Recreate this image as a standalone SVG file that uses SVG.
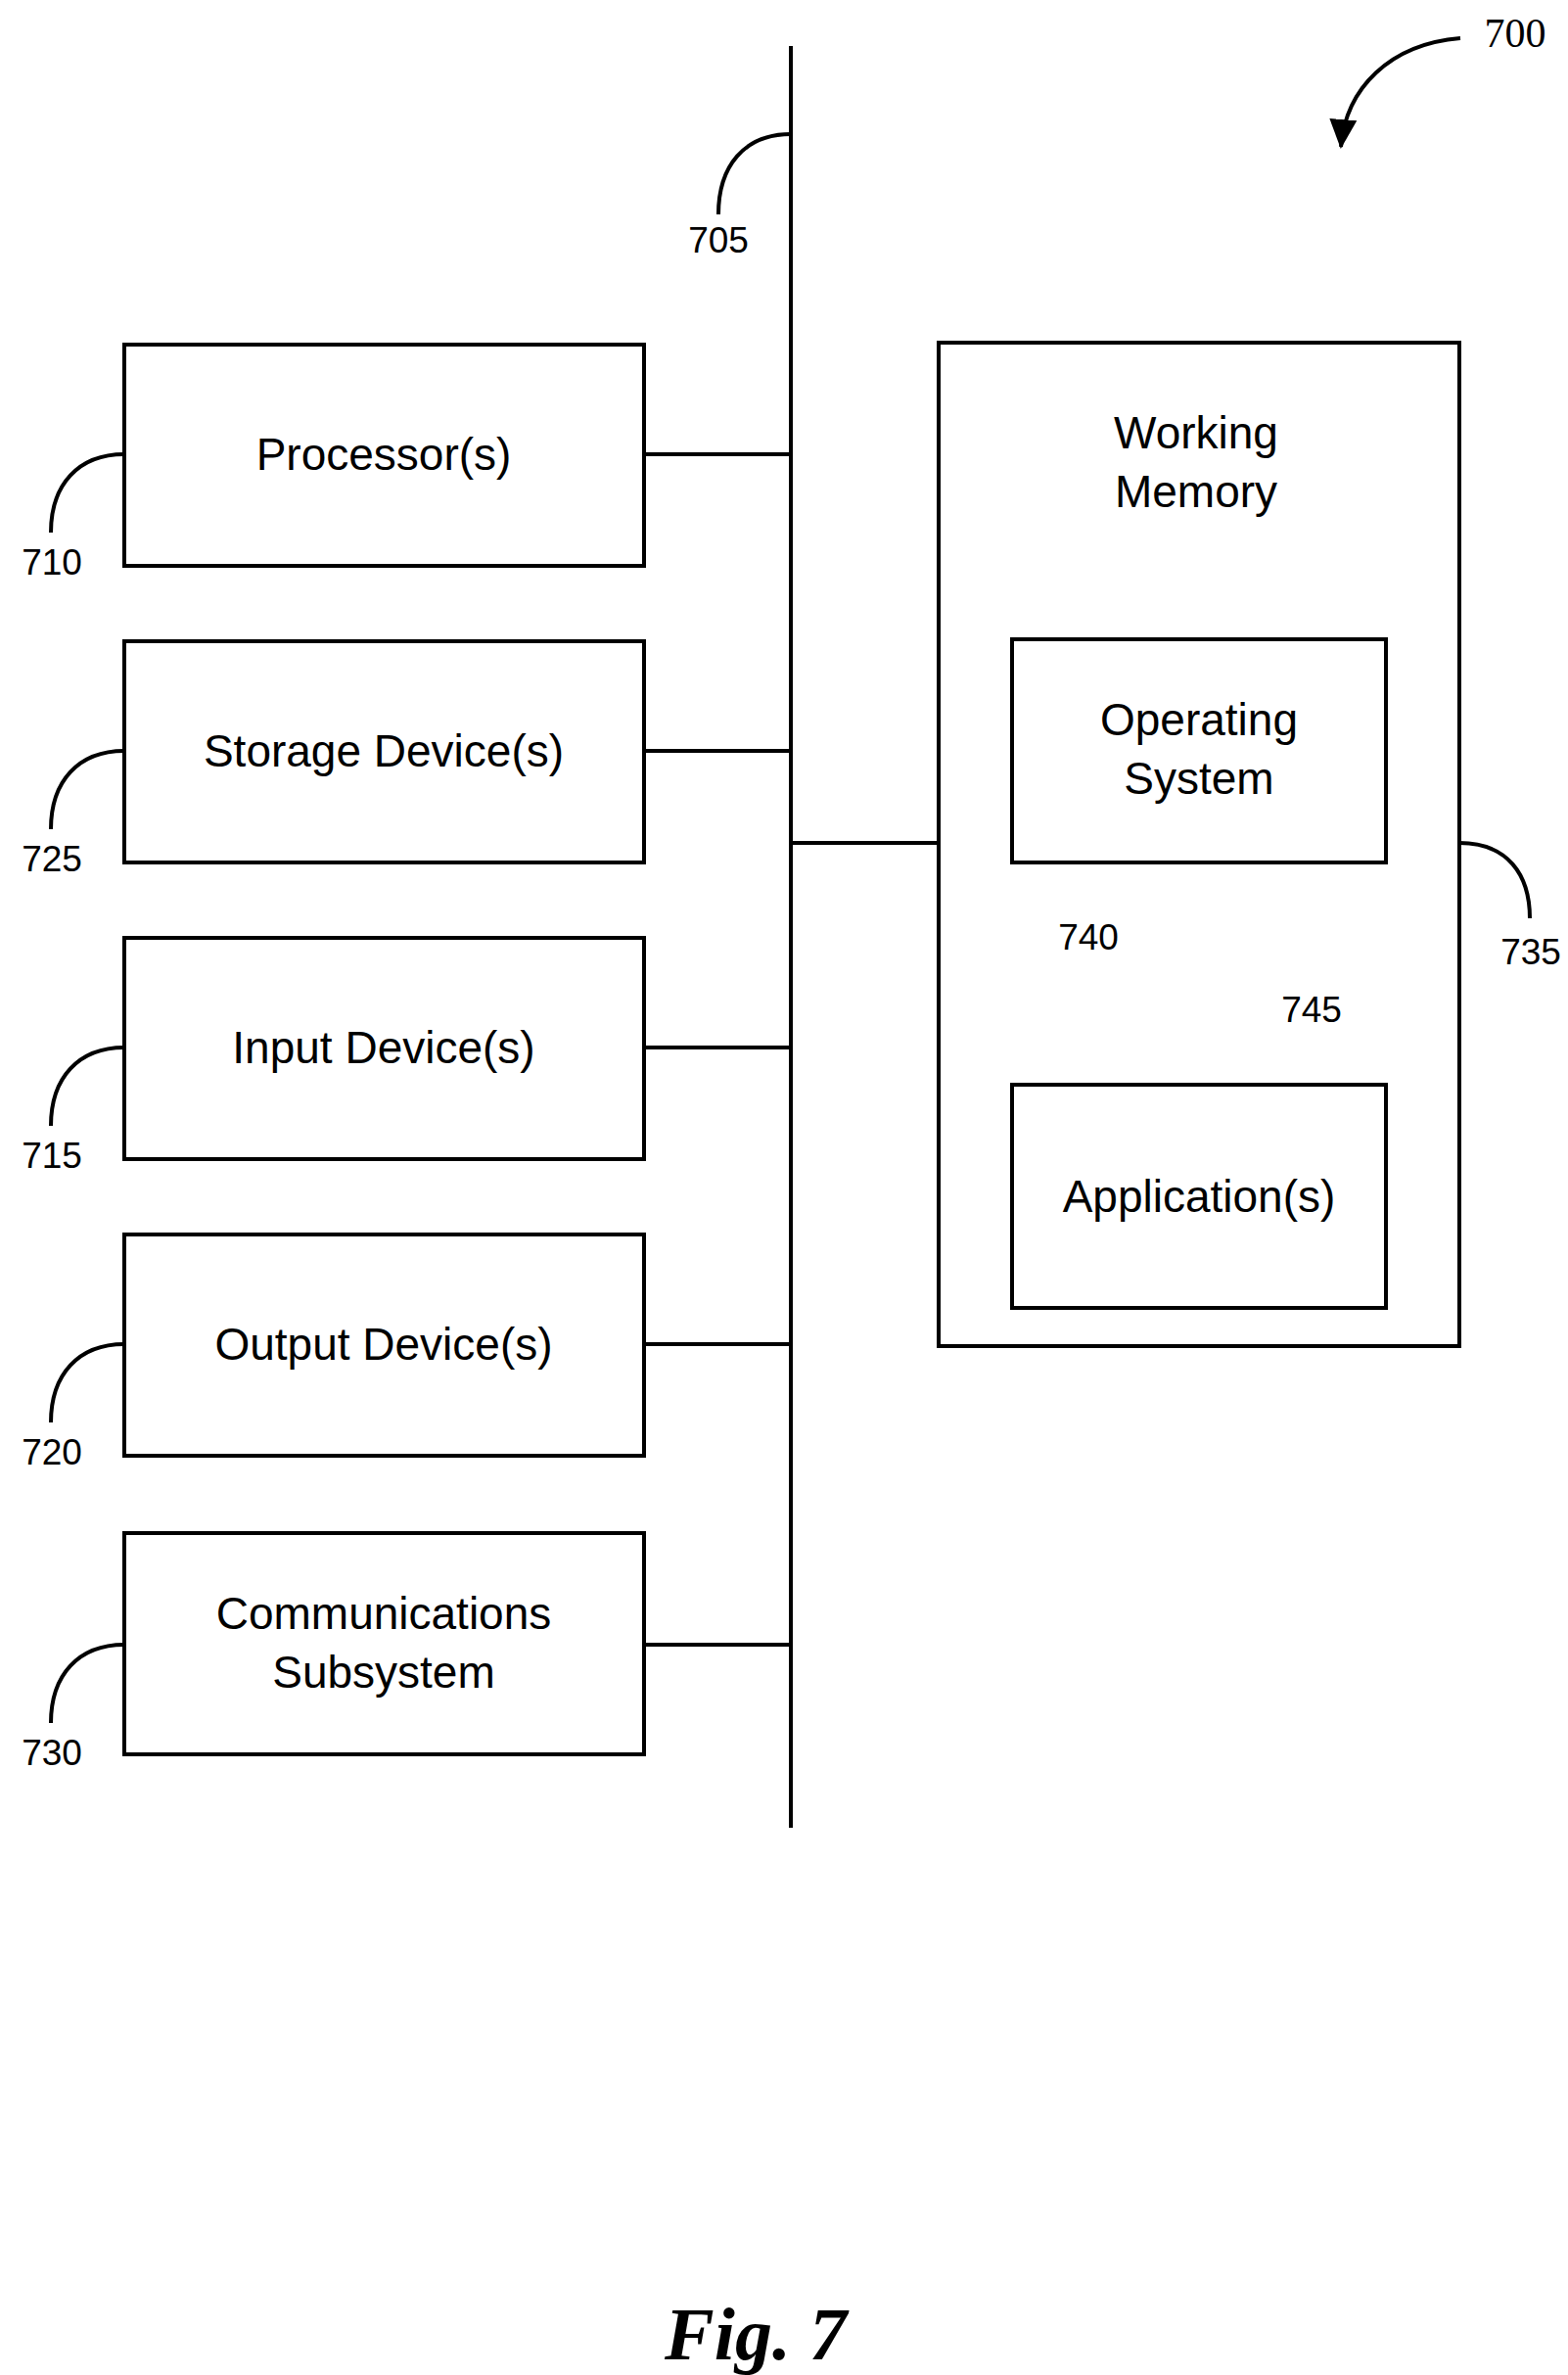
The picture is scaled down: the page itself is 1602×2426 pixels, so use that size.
<svg xmlns="http://www.w3.org/2000/svg" width="1602" height="2426" viewBox="0 0 1602 2426">
<style>
.box{fill:#fff;stroke:#000;stroke-width:4}
.ln{fill:none;stroke:#000;stroke-width:4}
.t{font-family:"Liberation Sans",Arial,sans-serif;font-size:46px;text-anchor:middle}
.n{font-family:"Liberation Sans",Arial,sans-serif;font-size:37px;text-anchor:middle}
</style>
<defs><marker id="ah" markerWidth="10" markerHeight="10" refX="5" refY="5" orient="auto" markerUnits="userSpaceOnUse" viewBox="0 0 10 10"><path d="M0,0 L10,5 L0,10 z"/></marker>
<marker id="ah2" markerWidth="30" markerHeight="40" refX="28" refY="20" orient="auto" markerUnits="userSpaceOnUse"><path d="M0,6 L30,20 L0,34 z"/></marker></defs>
<rect width="1602" height="2426" fill="#fff"/>
<g id="connectors">
<line class="ln" x1="808" y1="47" x2="808" y2="1867"/>
<line class="ln" x1="658" y1="464" x2="808" y2="464"/>
<line class="ln" x1="658" y1="767" x2="808" y2="767"/>
<line class="ln" x1="658" y1="1070" x2="808" y2="1070"/>
<line class="ln" x1="658" y1="1373" x2="808" y2="1373"/>
<line class="ln" x1="658" y1="1680" x2="808" y2="1680"/>
<line class="ln" x1="808" y1="861" x2="959" y2="861"/>
<path class="ln" d="M808,137 C760,137 734,170 734,219"/>
<path class="ln" d="M127,464 C80,464 52,495 52,544"/>
<path class="ln" d="M127,767 C80,767 52,798 52,847"/>
<path class="ln" d="M127,1070 C80,1070 52,1101 52,1150"/>
<path class="ln" d="M127,1373 C80,1373 52,1404 52,1453"/>
<path class="ln" d="M127,1680 C80,1680 52,1711 52,1760"/>
<path class="ln" d="M1491,861 C1540,861 1563,893 1563,938"/>
<path class="ln" d="M1225,884 C1225,930 1190,956 1148,956"/>
<path class="ln" d="M1225,1108 C1225,1060 1260,1031 1305,1031"/>
<path class="ln" d="M1492,39 C1420,45 1375,90 1370,150" marker-end="url(#ah2)"/>
</g>
<g id="n710"><rect class="box" x="127" y="352" width="531" height="226"/><text class="t" x="392" y="480">Processor(s)</text><text class="n" x="53" y="587">710</text></g>
<g id="n725"><rect class="box" x="127" y="655" width="531" height="226"/><text class="t" x="392" y="783">Storage Device(s)</text><text class="n" x="53" y="890">725</text></g>
<g id="n715"><rect class="box" x="127" y="958" width="531" height="226"/><text class="t" x="392" y="1086">Input Device(s)</text><text class="n" x="53" y="1193">715</text></g>
<g id="n720"><rect class="box" x="127" y="1261" width="531" height="226"/><text class="t" x="392" y="1389">Output Device(s)</text><text class="n" x="53" y="1496">720</text></g>
<g id="n730"><rect class="box" x="127" y="1566" width="531" height="226"/><text class="t" x="392" y="1664">Communications</text><text class="t" x="392" y="1724">Subsystem</text><text class="n" x="53" y="1803">730</text></g>
<g id="n735"><rect class="box" x="959" y="350" width="532" height="1025"/><text class="t" x="1222" y="458">Working</text><text class="t" x="1222" y="518">Memory</text><text class="n" x="1564" y="985">735</text></g>
<g id="n740"><rect class="box" x="1034" y="653" width="382" height="228"/><text class="t" x="1225" y="751">Operating</text><text class="t" x="1225" y="811">System</text><text class="n" x="1112" y="970">740</text></g>
<g id="n745"><rect class="box" x="1034" y="1108" width="382" height="228"/><text class="t" x="1225" y="1238">Application(s)</text><text class="n" x="1340" y="1044">745</text></g>
<g id="n705"><text class="n" x="734" y="258">705</text></g>
<text x="1548" y="48" font-family="'Liberation Serif',serif" font-size="42" text-anchor="middle">700</text>
<text x="772" y="2410" font-family="'Liberation Serif',serif" font-size="76" font-weight="bold" font-style="italic" text-anchor="middle">Fig. 7</text>
</svg>
